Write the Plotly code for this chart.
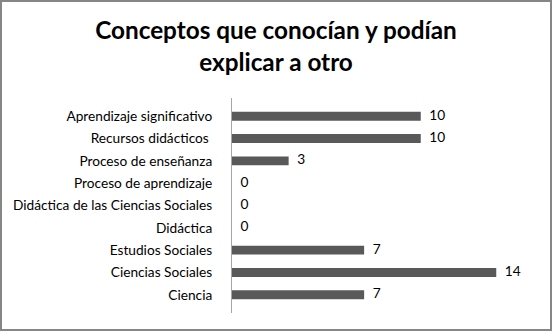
import plotly.graph_objects as go

categories = [
    "Aprendizaje significativo",
    "Recursos didácticos ",
    "Proceso de enseñanza",
    "Proceso de aprendizaje",
    "Didáctica de las Ciencias Sociales",
    "Didáctica",
    "Estudios Sociales",
    "Ciencias Sociales",
    "Ciencia",
]
values = [10, 10, 3, 0, 0, 0, 7, 14, 7]
title_lines = ["Conceptos que conocían y podían", "explicar a otro"]

W, H = 552, 331
L, R, T, B = 232, 18, 98, 18
pw, ph = W - L - R, H - T - B

def px_x(p):
    return (p - L) / pw

def px_y(p):
    return (H - B - p) / ph

FONT = "Lato, Carlito, Calibri, sans-serif"

fig = go.Figure()
fig.add_trace(go.Bar(
    y=categories, x=values, orientation="h",
    marker=dict(color="#595959", line=dict(width=0)),
    hoverinfo="skip",
))
fig.add_trace(go.Scatter(
    y=categories, x=values, mode="markers+text",
    text=[str(v) for v in values], textposition="middle right",
    marker=dict(size=12, opacity=0),
    textfont=dict(family=FONT, size=13.7, color="#000000"),
    hoverinfo="skip", cliponaxis=False,
))

fig.update_layout(
    width=W, height=H,
    margin=dict(l=L, r=R, t=T, b=B, autoexpand=False),
    paper_bgcolor="white", plot_bgcolor="white",
    showlegend=False,
    bargap=0.6,
    title=dict(
        text="<br>".join(title_lines),
        x=(276 - L) / pw, xanchor="center", xref="paper",
        y=1 - 39 / H, yanchor="top", yref="container",
        font=dict(family=FONT, size=24.3, color="#000000", weight="bold"),
    ),
    xaxis=dict(range=[0, 16], showgrid=False, zeroline=False, showline=False,
               showticklabels=False, ticks="", automargin=False),
    yaxis=dict(autorange="reversed", showgrid=False, zeroline=False,
               showline=True, linecolor="#a6a6a6", linewidth=1,
               ticks="", ticklabelstandoff=16, automargin=False,
               tickfont=dict(family=FONT, size=13.7, color="#000000")),
    shapes=[dict(type="rect", xref="paper", yref="paper",
                 x0=px_x(1), x1=px_x(551), y0=px_y(330), y1=px_y(1),
                 line=dict(color="#868686", width=2), fillcolor="rgba(0,0,0,0)",
                 layer="below")],
)

fig.write_html("out.html")
